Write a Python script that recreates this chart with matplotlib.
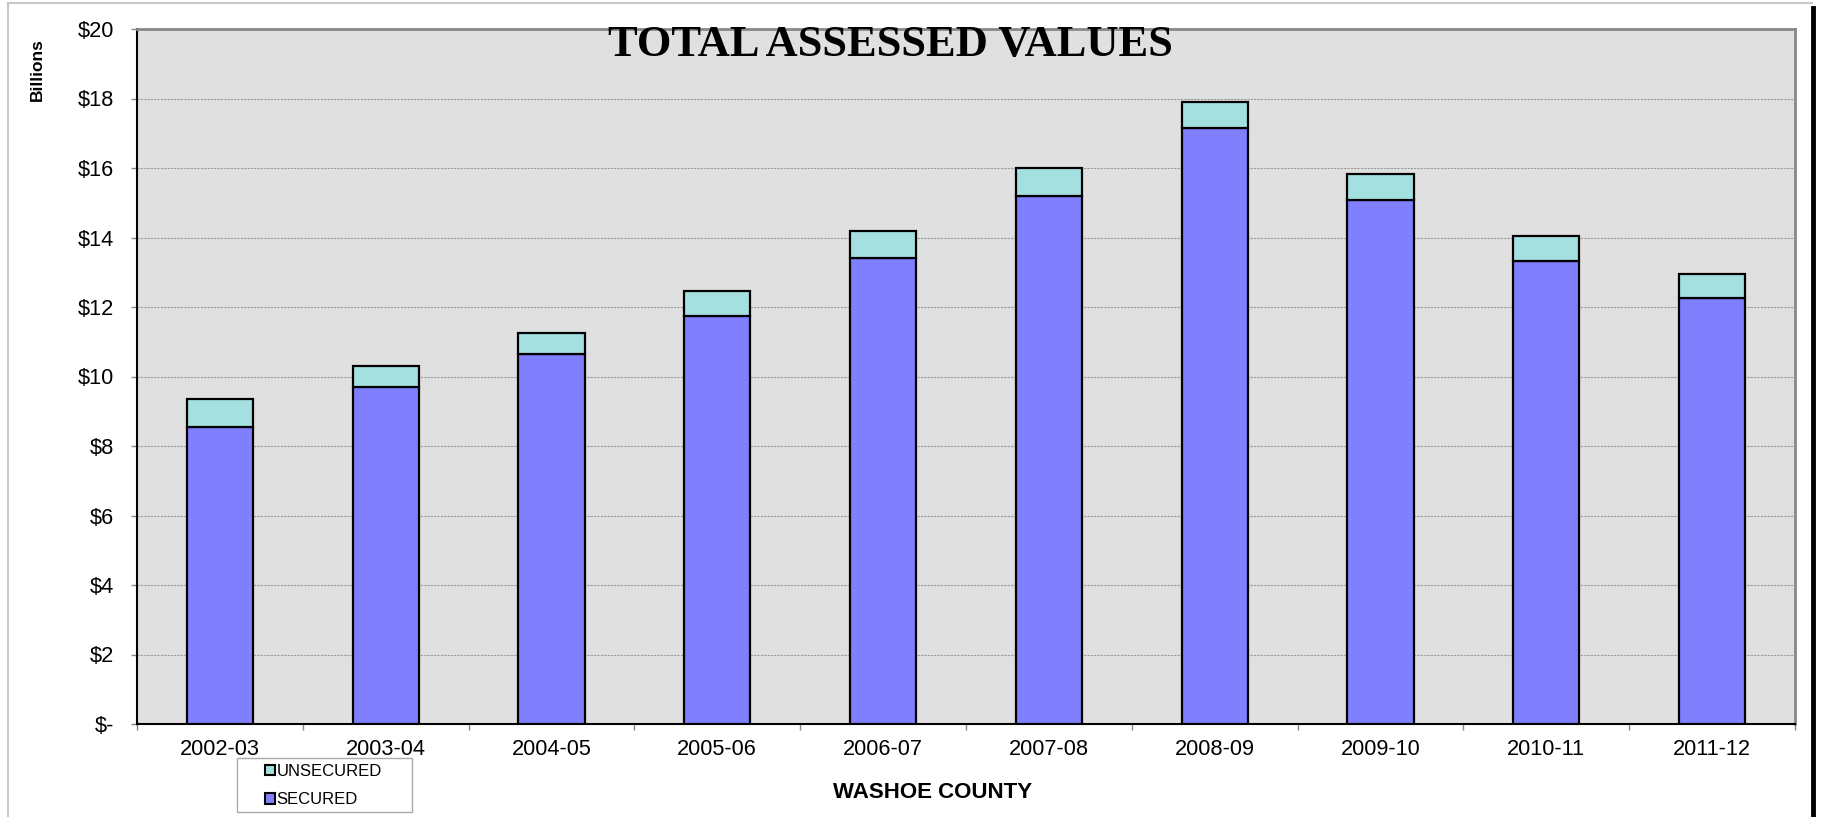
import matplotlib
matplotlib.use("Agg")
import matplotlib.pyplot as plt
from matplotlib.patches import Patch, Rectangle
from matplotlib.lines import Line2D
import numpy as np

years = ["2002-03", "2003-04", "2004-05", "2005-06", "2006-07",
         "2007-08", "2008-09", "2009-10", "2010-11", "2011-12"]
secured = [8.56, 9.70, 10.64, 11.74, 13.41, 15.18, 17.16, 15.08, 13.31, 12.27]
unsecured = [0.80, 0.60, 0.60, 0.73, 0.77, 0.81, 0.73, 0.74, 0.74, 0.67]
yticks = [0, 2, 4, 6, 8, 10, 12, 14, 16, 18, 20]
ytick_labels = ["$-", "$2", "$4", "$6", "$8", "$10", "$12", "$14", "$16", "$18", "$20"]

SEC_COLOR = "#8080FF"
UNSEC_COLOR = "#A4E0E0"

plt.rcParams['font.family'] = ['Liberation Sans', 'DejaVu Sans']

W, H = 1821, 817
fig = plt.figure(figsize=(W / 100, H / 100), dpi=100)
ax = fig.add_axes([137/W, 1 - 724/H, (1795 - 137)/W, (724 - 29)/H])
ax.set_facecolor("#E0E0E0")

x = np.arange(len(years))
w = 0.40
ax.bar(x, secured, w, color=SEC_COLOR, edgecolor="black", linewidth=1.6, zorder=3)
ax.bar(x, unsecured, w, bottom=secured, color=UNSEC_COLOR, edgecolor="black", linewidth=1.6, zorder=3)

ax.set_xlim(-0.5, len(years) - 0.5)
ax.set_ylim(0, 20)
ax.set_yticks(yticks)
ax.set_yticklabels(ytick_labels, fontsize=15.7)
ax.set_xticks(x)
ax.set_xticklabels(years, fontsize=15.7)
ax.set_xticks(np.arange(-0.5, len(years), 1.0), minor=True)
ax.tick_params(axis='x', which='major', length=0, pad=11)
ax.tick_params(axis='x', which='minor', length=4.5, color="#888888", width=1)
ax.tick_params(axis='y', which='major', length=4.5, color="#888888", width=1, pad=12)

ax.grid(axis='y', color="#999999", linestyle=(0, (2, 1)), linewidth=0.8, zorder=1)
for s in ['top', 'right']:
    ax.spines[s].set_color("#888888")
    ax.spines[s].set_linewidth(2)
for s in ['left', 'bottom']:
    ax.spines[s].set_color("black")
    ax.spines[s].set_linewidth(1.5)

fig.text(890/W, 1 - 45/H, "TOTAL ASSESSED VALUES", family=['Liberation Serif', 'DejaVu Serif'],
         fontweight='bold', fontsize=32, ha='center', va='center')
fig.text(37/W, 1 - 70/H, "Billions", rotation=90, fontweight='bold', fontsize=12.5,
         ha='center', va='center')
fig.text(933/W, 1 - 792/H, "WASHOE COUNTY", fontweight='bold', fontsize=16,
         ha='center', va='center')

# legend frame
fig.add_artist(Rectangle((237/W, 1 - 812/H), 175/W, 54/H, transform=fig.transFigure,
                         facecolor="white", edgecolor="#AAAAAA", linewidth=1, zorder=4))
handles = [Patch(facecolor=UNSEC_COLOR, edgecolor="black", linewidth=1.5),
           Patch(facecolor=SEC_COLOR, edgecolor="black", linewidth=1.5)]
leg = fig.legend(handles, ["UNSECURED", "SECURED"], loc='upper left',
                 bbox_to_anchor=(265/W, 1 - 764/H), fontsize=12, frameon=False,
                 handlelength=0.6, handleheight=0.6, handletextpad=0.1,
                 borderpad=0.0, labelspacing=0.8, borderaxespad=0)
leg.set_zorder(5)

# page borders
fig.add_artist(Line2D([8/W, 1812/W], [1 - 3/H, 1 - 3/H], color="#C8C8C8", linewidth=1.5))
fig.add_artist(Line2D([8/W, 8/W], [0, 1 - 3/H], color="#C8C8C8", linewidth=1.5))
fig.add_artist(Line2D([1813/W, 1813/W], [0, 1 - 8/H], color="black", linewidth=3.5))

fig.savefig("out.png", dpi=100)
